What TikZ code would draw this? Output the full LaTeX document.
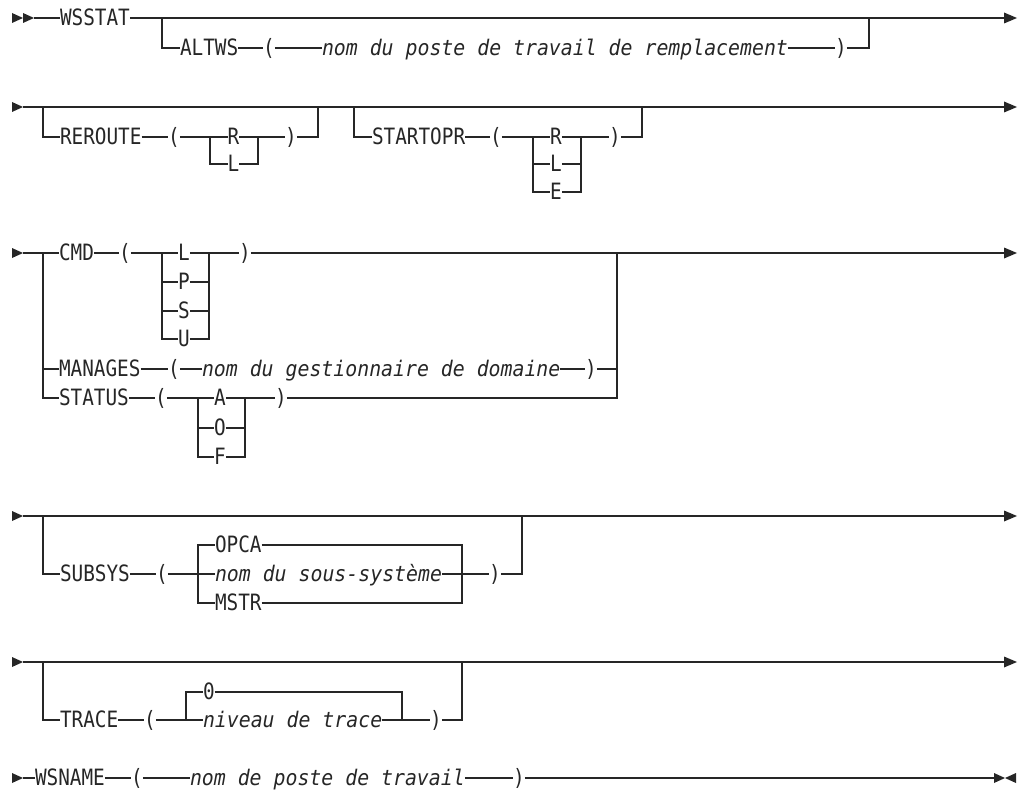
\documentclass[tikz,border=0pt]{standalone}
\usepackage{fontspec}
\newfontfamily\kwfont[FakeStretch=0.86]{DejaVu Sans Mono}
\newfontfamily\varfont[FakeStretch=0.923]{DejaVu Sans Mono}
\tikzset{
  ln/.style={line width=1.2pt, draw=black!85},
  kw/.style={inner sep=0pt, outer sep=0pt, text height=15.5pt, text depth=0pt, anchor=west,
             text=black!85, font=\kwfont\fontsize{22.5}{24}\selectfont},
  var/.style={kw, font=\varfont\itshape\fontsize{21.5}{24}\selectfont},
  paren/.style={kw, anchor=center},
  itm/.style={kw, anchor=center},
  tip/.style={fill=black!85},
  rarrow/.pic={\fill[tip] (-11,-5) -- (0,0) -- (-11,5) -- cycle;},
  larrow/.pic={\fill[tip] (11,-5) -- (0,0) -- (11,5) -- cycle;},
  endarrow/.pic={\fill[tip] (-13,-5.5) -- (0,0) -- (-13,5.5) -- cycle;},
}
\begin{document}
\begin{tikzpicture}[x=1pt,y=-1pt]
\useasboundingbox (0,0) rectangle (1021,792);

% ---------------- Row 1
\pic at (23,18) {rarrow}; \pic at (34,18) {rarrow};
\coordinate (r1a) at (34,18);
\coordinate (r1b) at (162,18);
\coordinate (r1c) at (869,18);
\coordinate (r1e) at (1005,18);
\pic at (1017,18) {endarrow};
\node[kw] (wsstat) at (60,18) {WSSTAT};
\node[kw] (altws) at (180,48) {ALTWS};
\node[paren] (altwsL) at (269,48) {(};
\node[var] (altwsV) at (322,48) {nom du poste de travail de remplacement};
\node[paren] (altwsP) at (841,48) {)};
\draw[ln] (r1a) -- (wsstat.west);
\draw[ln] (wsstat.east) -- (r1e);
\draw[ln] (r1b) |- (altws.west);
\draw[ln] (altws.east) -- (altwsL.west);
\draw[ln] (altwsL.east) -- (altwsV.west);
\draw[ln] (altwsV.east) -- (altwsP.west);
\draw[ln] (altwsP.east) -| (r1c);

% ---------------- Row 2
\pic at (23,107) {rarrow};
\coordinate (r2a) at (23,107);
\coordinate (r2b) at (43,107);
\coordinate (r2c) at (318,107);
\coordinate (r2d) at (354,107);
\coordinate (r2f) at (642,107);
\coordinate (r2e) at (1005,107);
\pic at (1017,107) {endarrow};
\draw[ln] (r2a) -- (r2e);
% REROUTE
\node[kw] (rer) at (60,137) {REROUTE};
\node[paren] (rerL) at (174,137) {(};
\coordinate (rerB) at (210,137);
\node[itm] (rerR) at (233.5,137) {R};
\node[itm] (rerLl) at (233.5,164) {L};
\coordinate (rerJ) at (258,137);
\node[paren] (rerP) at (291,137) {)};
\draw[ln] (r2b) |- (rer.west);
\draw[ln] (rer.east) -- (rerL.west);
\draw[ln] (rerL.east) -- (rerR.west);
\draw[ln] (rerR.east) -- (rerP.west);
\draw[ln] (rerP.east) -| (r2c);
\draw[ln] (rerB) |- (rerLl.west);
\draw[ln] (rerLl.east) -| (rerJ);
% STARTOPR
\node[kw] (sto) at (372,137) {STARTOPR};
\node[paren] (stoL) at (496,137) {(};
\coordinate (stoB) at (533,137);
\node[itm] (stoR) at (556,137) {R};
\node[itm] (stoLl) at (556,164) {L};
\node[itm] (stoE) at (556,192) {E};
\coordinate (stoJ) at (581,137);
\node[paren] (stoP) at (615,137) {)};
\draw[ln] (r2d) |- (sto.west);
\draw[ln] (sto.east) -- (stoL.west);
\draw[ln] (stoL.east) -- (stoR.west);
\draw[ln] (stoR.east) -- (stoP.west);
\draw[ln] (stoP.east) -| (r2f);
\draw[ln] (stoB) |- (stoLl.west);
\draw[ln] (stoB) |- (stoE.west);
\draw[ln] (stoLl.east) -| (stoJ);
\draw[ln] (stoE.east) -| (stoJ);

% ---------------- Row 3
\pic at (23,253) {rarrow};
\coordinate (r3a) at (23,253);
\coordinate (r3b) at (43,253);
\coordinate (r3j) at (617,253);
\coordinate (r3e) at (1005,253);
\pic at (1017,253) {endarrow};
% CMD
\node[kw] (cmd) at (59,253) {CMD};
\node[paren] (cmdL) at (125,253) {(};
\coordinate (cmdB) at (162,253);
\node[itm] (cmdI1) at (184,253) {L};
\node[itm] (cmdI2) at (184,282) {P};
\node[itm] (cmdI3) at (184,311) {S};
\node[itm] (cmdI4) at (184,339) {U};
\coordinate (cmdJ) at (209,253);
\node[paren] (cmdP) at (245,253) {)};
\draw[ln] (r3a) -- (cmd.west);
\draw[ln] (cmd.east) -- (cmdL.west);
\draw[ln] (cmdL.east) -- (cmdI1.west);
\draw[ln] (cmdI1.east) -- (cmdP.west);
\draw[ln] (cmdP.east) -- (r3e);
\foreach \i in {2,3,4} {
  \draw[ln] (cmdB) |- (cmdI\i.west);
  \draw[ln] (cmdI\i.east) -| (cmdJ);
}
% MANAGES
\node[kw] (man) at (59,369) {MANAGES};
\node[paren] (manL) at (174,369) {(};
\node[var] (manV) at (202,369) {nom du gestionnaire de domaine};
\node[paren] (manP) at (591,369) {)};
\draw[ln] (r3b) |- (man.west);
\draw[ln] (man.east) -- (manL.west);
\draw[ln] (manL.east) -- (manV.west);
\draw[ln] (manV.east) -- (manP.west);
\draw[ln] (manP.east) -| (r3j);
% STATUS
\node[kw] (sta) at (59,398) {STATUS};
\node[paren] (staL) at (161,398) {(};
\coordinate (staB) at (198,398);
\node[itm] (staI1) at (220,398) {A};
\node[itm] (staI2) at (220,428) {O};
\node[itm] (staI3) at (220,457) {F};
\coordinate (staJ) at (245,398);
\node[paren] (staP) at (281,398) {)};
\draw[ln] (r3b) |- (sta.west);
\draw[ln] (sta.east) -- (staL.west);
\draw[ln] (staL.east) -- (staI1.west);
\draw[ln] (staI1.east) -- (staP.west);
\draw[ln] (staP.east) -| (r3j);
\foreach \i in {2,3} {
  \draw[ln] (staB) |- (staI\i.west);
  \draw[ln] (staI\i.east) -| (staJ);
}

% ---------------- Row 4
\pic at (23,516) {rarrow};
\coordinate (r4a) at (23,516);
\coordinate (r4b) at (43,516);
\coordinate (r4c) at (522,516);
\coordinate (r4e) at (1005,516);
\pic at (1017,516) {endarrow};
\draw[ln] (r4a) -- (r4e);
\node[kw] (sub) at (60,574) {SUBSYS};
\node[paren] (subL) at (162,574) {(};
\coordinate (subB) at (198,574);
\node[kw] (opca) at (215,545) {OPCA};
\node[var] (subV) at (215,574) {nom du sous-système};
\node[kw] (mstr) at (215,603) {MSTR};
\coordinate (subJ) at (462,574);
\node[paren] (subP) at (495,574) {)};
\draw[ln] (r4b) |- (sub.west);
\draw[ln] (sub.east) -- (subL.west);
\draw[ln] (subL.east) -- (subV.west);
\draw[ln] (subV.east) -- (subP.west);
\draw[ln] (subP.east) -| (r4c);
\draw[ln] (subB) |- (opca.west);
\draw[ln] (subB) |- (mstr.west);
\draw[ln] (opca.east) -| (subJ);
\draw[ln] (mstr.east) -| (subJ);

% ---------------- Row 5
\pic at (23,662) {rarrow};
\coordinate (r5a) at (23,662);
\coordinate (r5b) at (43,662);
\coordinate (r5c) at (462,662);
\coordinate (r5e) at (1005,662);
\pic at (1017,662) {endarrow};
\draw[ln] (r5a) -- (r5e);
\node[kw] (tr) at (60,720) {TRACE};
\node[paren] (trL) at (150,720) {(};
\coordinate (trB) at (186,720);
\node[kw] (zero) at (203,692) {0};
\node[var] (trV) at (203,720) {niveau de trace};
\coordinate (trJ) at (402,720);
\node[paren] (trP) at (436,720) {)};
\draw[ln] (r5b) |- (tr.west);
\draw[ln] (tr.east) -- (trL.west);
\draw[ln] (trL.east) -- (trV.west);
\draw[ln] (trV.east) -- (trP.west);
\draw[ln] (trP.east) -| (r5c);
\draw[ln] (trB) |- (zero.west);
\draw[ln] (zero.east) -| (trJ);

% ---------------- Row 6
\pic at (23,778) {rarrow};
\coordinate (r6a) at (23,778);
\coordinate (r6e) at (994,778);
\pic at (1005,778) {rarrow};
\pic at (1005,778) {larrow};
\node[kw] (wsn) at (35,778) {WSNAME};
\node[paren] (wsnL) at (137,778) {(};
\node[var] (wsnV) at (190,778) {nom de poste de travail};
\node[paren] (wsnP) at (519,778) {)};
\draw[ln] (r6a) -- (wsn.west);
\draw[ln] (wsn.east) -- (wsnL.west);
\draw[ln] (wsnL.east) -- (wsnV.west);
\draw[ln] (wsnV.east) -- (wsnP.west);
\draw[ln] (wsnP.east) -- (r6e);
\end{tikzpicture}
\end{document}
